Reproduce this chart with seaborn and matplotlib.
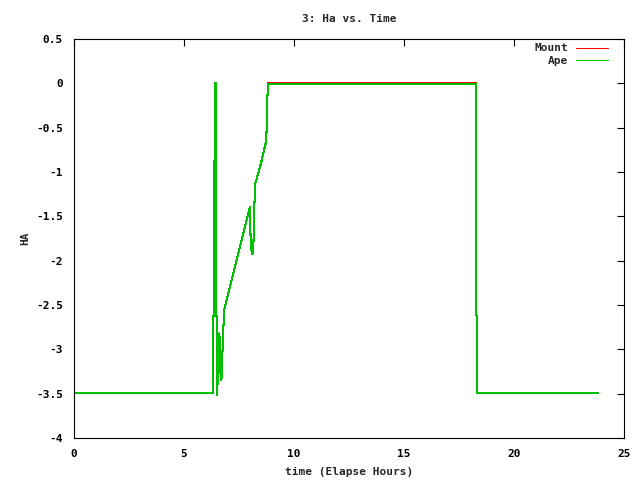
import numpy as np
import matplotlib
matplotlib.use("Agg")
import matplotlib.pyplot as plt
import seaborn as sns

# elapsed hours / hour angle
time_hours = [0.0, 6.33, 6.33, 6.38, 6.38, 6.42, 6.42, 6.44, 6.44, 6.47, 6.47,
              6.51, 6.515, 6.545, 6.56, 6.61, 6.64, 6.65, 6.70, 6.74, 6.79, 6.83,
              8.0, 8.03, 8.09, 8.15, 8.18, 8.24, 8.48, 8.64, 8.73, 8.76, 8.79, 8.83,
              18.26, 18.26, 18.29, 18.29, 18.32, 18.32, 23.8]
mount_ha = [-3.49, -3.49, -2.62, -2.62, -0.87, -0.87, 0.0, 0.0, -0.87, -0.87, -2.62,
            -2.62, -3.52, -3.0, -3.35, -2.82, -3.21, -2.95, -3.35, -3.09, -2.75, -2.55,
            -1.39, -1.80, -1.93, -1.89, -1.49, -1.13, -0.92, -0.75, -0.66, -0.49, -0.15, 0.006,
            0.006, -0.87, -0.87, -2.62, -2.62, -3.49, -3.49]
ape_ha = [-3.49, -3.49, -2.62, -2.62, -0.87, -0.87, 0.0, 0.0, -0.87, -0.87, -2.62,
          -2.62, -3.52, -3.0, -3.35, -2.82, -3.21, -2.95, -3.35, -3.09, -2.75, -2.55,
          -1.39, -1.80, -1.93, -1.89, -1.49, -1.13, -0.92, -0.75, -0.66, -0.49, -0.15, -0.005,
          -0.005, -0.87, -0.87, -2.62, -2.62, -3.49, -3.49]

x_ticks = [0, 5, 10, 15, 20, 25]
y_ticks = [0.5, 0, -0.5, -1, -1.5, -2, -2.5, -3, -3.5, -4]

sns.set_style("white")
plt.rcParams['font.family'] = ['DejaVu Sans Mono']
plt.rcParams['font.weight'] = 'bold'
plt.rcParams['axes.unicode_minus'] = False

fig = plt.figure(figsize=(6.4, 4.8), dpi=100)
ax = fig.add_axes([74 / 640, 1 - 438 / 480, 550 / 640, 399 / 480])

sns.lineplot(x=time_hours, y=mount_ha, sort=False, estimator=None, color='#ff0000',
             lw=0.75, label='Mount', ax=ax, antialiased=False)
sns.lineplot(x=time_hours, y=ape_ha, sort=False, estimator=None, color='#00c000',
             lw=0.75, label='Ape', ax=ax, antialiased=False)

ax.set_xlim(0, 25)
ax.set_ylim(-4, 0.5)
ax.set_xticks(x_ticks)
ax.set_yticks(y_ticks)
ax.set_xticklabels([f'{t:g}' for t in x_ticks])
ax.set_yticklabels([f'{t:g}' for t in y_ticks])
ax.tick_params(direction='in', length=5, width=0.8, top=True, right=True,
               labelsize=8, pad=8, colors='black')
for s in ax.spines.values():
    s.set_color('black')
    s.set_linewidth(0.8)

ax.set_title('3: Ha vs. Time', fontsize=8, fontweight='bold', pad=12)
ax.set_xlabel('time (Elapse Hours)', fontsize=8, fontweight='bold', labelpad=6)
ax.set_ylabel('HA', fontsize=8, fontweight='bold', labelpad=4)

leg = ax.legend(loc='upper right', bbox_to_anchor=(0.979, 1.0), frameon=False,
                markerfirst=False, fontsize=8, handlelength=2.9, handletextpad=0.7,
                labelspacing=0.2, borderaxespad=0.0)

fig.savefig('out.png', dpi=100)
